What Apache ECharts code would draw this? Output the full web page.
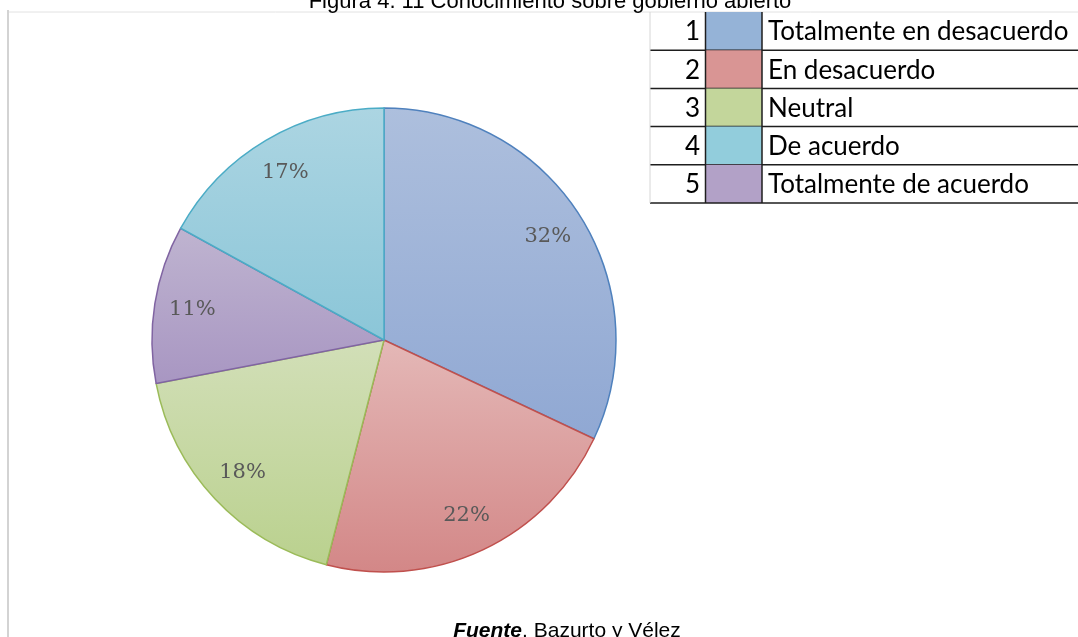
<!DOCTYPE html>
<html>
<head>
<meta charset="utf-8">
<script src="https://cdn.jsdelivr.net/npm/echarts@6/dist/echarts.min.js"></script>
<style>
  html, body { margin: 0; padding: 0; background: #fff; }
  #chart { width: 1078px; height: 637px; }
</style>
</head>
<body>
<div id="chart"></div>
<script>
// datos
const categories = ['Totalmente en desacuerdo', 'En desacuerdo', 'Neutral', 'De acuerdo', 'Totalmente de acuerdo'];
const codes = ['1', '2', '3', '4', '5'];
const percents = [32, 22, 18, 17, 11];
// orden del pastel (sentido horario desde arriba): 1, 2, 3, 5, 4
const pieOrder = [0, 1, 2, 4, 3];

const baseColors = ['#95b3d7', '#d99594', '#c3d69b', '#92cddc', '#b2a1c7'];
const topColors = ['#adbfdd', '#e4b8b7', '#d2dfb8', '#acd5e2', '#bfb4d0'];
const bottomColors = ['#90a8d3', '#d38787', '#bad18e', '#8bc6d8', '#a896c2'];
const borderColors = ['#4f81bd', '#c0504d', '#9bbb59', '#4bacc6', '#8064a2'];

const chart = echarts.init(document.getElementById('chart'));

const pieData = pieOrder.map(i => ({
  name: categories[i],
  value: percents[i],
  itemStyle: {
    color: new echarts.graphic.LinearGradient(0, 0, 0, 1, [
      { offset: 0, color: topColors[i] },
      { offset: 1, color: bottomColors[i] }
    ]),
    borderColor: borderColors[i],
    borderWidth: 1.5
  }
}));

const labelData = pieOrder.map(i => ({ name: categories[i], value: percents[i] }));

// tabla de leyenda
const rowTop = 12, rowH = 38.2, tLeft = 650, c1 = 705.5, c2 = 762;
const table = [];
codes.forEach((c, i) => {
  const y0 = rowTop + i * rowH;
  table.push({
    type: 'rect',
    shape: { x: c1, y: y0, width: c2 - c1, height: rowH },
    style: { fill: baseColors[i] }
  });
  table.push({
    type: 'text', x: 700, y: y0 + rowH / 2 + 1,
    style: { text: c, font: '26px Lato', fill: '#000', align: 'right', verticalAlign: 'middle' }
  });
  table.push({
    type: 'text', x: 768, y: y0 + rowH / 2 + 1,
    style: { text: categories[i], font: '26px Lato', fill: '#000', align: 'left', verticalAlign: 'middle' }
  });
  table.push({
    type: 'line',
    shape: { x1: tLeft, y1: y0 + rowH, x2: 1078, y2: y0 + rowH },
    style: { stroke: '#1e1e1e', lineWidth: 1.5 }
  });
});
const tBottom = rowTop + codes.length * rowH;
table.push(
  { type: 'line', shape: { x1: tLeft, y1: rowTop, x2: tLeft, y2: tBottom }, style: { stroke: '#d6d6d6', lineWidth: 1 } },
  { type: 'line', shape: { x1: c1, y1: rowTop, x2: c1, y2: tBottom }, style: { stroke: '#1e1e1e', lineWidth: 1.5 } },
  { type: 'line', shape: { x1: c2, y1: rowTop, x2: c2, y2: tBottom }, style: { stroke: '#1e1e1e', lineWidth: 1.5 } }
);

const option = {
  backgroundColor: '#ffffff',
  animation: false,
  graphic: [
    // marco
    { type: 'line', shape: { x1: 8, y1: 12, x2: 1078, y2: 12 }, style: { stroke: '#e2e2e2', lineWidth: 1 } },
    { type: 'rect', shape: { x: 7, y: 10, width: 2, height: 627 }, style: { fill: '#d3d3d3' } },
    // titulo
    {
      type: 'text', x: 550, y: 13,
      style: { text: 'Figura 4. 11 Conocimiento sobre gobierno abierto', font: '22px "Liberation Sans"', fill: '#000', align: 'center', verticalAlign: 'bottom' }
    },
    // fuente
    {
      type: 'text', x: 567, y: 642,
      style: {
        text: '{b|Fuente}{r|. Bazurto y Vélez}',
        align: 'center', verticalAlign: 'bottom',
        rich: {
          b: { font: 'italic bold 21px "Liberation Sans"', fill: '#000' },
          r: { font: '21px "Liberation Sans"', fill: '#000' }
        }
      }
    }
  ].concat(table),
  series: [
    {
      type: 'pie',
      center: [384, 340],
      radius: 232,
      startAngle: 90,
      clockwise: true,
      label: { show: false },
      labelLine: { show: false },
      emphasis: { disabled: true },
      data: pieData
    },
    {
      // capa solo para las etiquetas de porcentaje
      type: 'pie',
      center: [384, 340],
      radius: [150, 232],
      startAngle: 90,
      clockwise: true,
      silent: true,
      itemStyle: { color: 'rgba(0,0,0,0)', borderWidth: 0 },
      label: {
        show: true,
        position: 'inside',
        formatter: '{c}%',
        fontFamily: 'DejaVu Serif',
        fontSize: 21,
        color: '#595959'
      },
      labelLine: { show: false },
      emphasis: { disabled: true },
      data: labelData
    }
  ]
};

chart.setOption(option);
</script>
</body>
</html>
